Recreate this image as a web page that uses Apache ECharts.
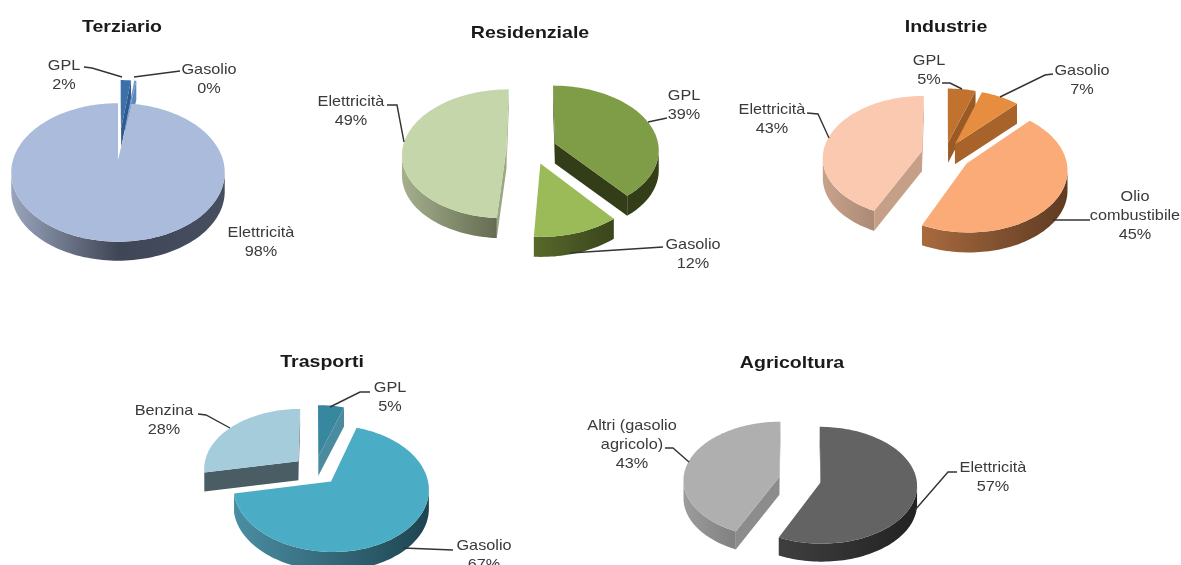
<!DOCTYPE html>
<html>
<head>
<meta charset="utf-8">
<style>html,body{margin:0;padding:0;background:#fff}#chart{width:1181px;height:565px}</style>
<script src="https://cdn.jsdelivr.net/npm/echarts@6/dist/echarts.min.js"></script>
</head>
<body>
<div id="chart"></div>
<script>
// Energy mix per sector, in percent, clockwise from twelve o'clock.
const terziarioNames = ['GPL', 'Gasolio', 'Elettricità'];
const terziarioValues = [2, 0.4, 97.6];
const residenzialeNames = ['GPL', 'Gasolio', 'Elettricità'];
const residenzialeValues = [39, 12, 49];
const industrieNames = ['GPL', 'Gasolio', 'Olio\ncombustibile', 'Elettricità'];
const industrieValues = [5, 7, 45, 43];
const trasportiNames = ['GPL', 'Gasolio', 'Benzina'];
const trasportiValues = [5, 67, 28];
const agricolturaNames = ['Elettricità', 'Altri (gasolio\nagricolo)'];
const agricolturaValues = [57, 43];

// Geometry and styling of each exploded pie: tilt (ry), perspective (k), extrusion depth.
const pies = [
  { title: 'Terziario', tx: 122, ty: 27, names: terziarioNames, values: terziarioValues,
    cx: 118, cy: 160, rx: 105, ry: 67, k: 0.18, depth: 19,
    explode: [0.52, 0.52, 0],
    top: ['#3d6fa8', '#6f96c9', '#abbbdb'],
    cut: ['#2d5a90', '#5b86bb', '#7f8ba6'],
    wall: [['#2d5a90', '#2d5a90'], ['#5b86bb', '#5b86bb'], ['#9aa5bd', '#3f4656', '#474e60']],
    labels: [[64, 75], [209, 79], [261, 242]],
    leaders: [[[84, 67], [92, 68], [122, 77]], [[180, 71], [134, 77]], null] },
  { title: 'Residenziale', tx: 530, ty: 33, names: residenzialeNames, values: residenzialeValues,
    cx: 532.5, cy: 148.5, rx: 104, ry: 64, k: 0.09, depth: 20,
    explode: [0.23, 0.24, 0.25],
    top: ['#7f9c47', '#9bbb59', '#c4d6aa'],
    cut: ['#333d18', '#4d5c22', '#9aa883'],
    wall: [['#333d18', '#333d18'], ['#58682a', '#3a451b'], ['#a5af8c', '#656c52']],
    labels: [[684, 105], [693, 254], [351, 111]],
    leaders: [[[667, 118], [648, 122]], [[663, 247], [570, 253]], [[387, 105], [397, 105], [404, 142]]] },
  { title: 'Industrie', tx: 946, ty: 27, names: industrieNames, values: industrieValues,
    cx: 945, cy: 154.5, rx: 99, ry: 61, k: 0.09, depth: 20,
    explode: [0.2, 0.2, 0.26, 0.24],
    top: ['#c2722f', '#e78d40', '#fbab78', '#fbc9af'],
    cut: ['#9a5a25', '#a8632a', '#a86a3e', '#c69f88'],
    wall: [['#9a5a25', '#9a5a25'], ['#a8632a', '#a8632a'], ['#a86a3e', '#5e3b22'], ['#c8a28b', '#ab8a76']],
    labels: [[929, 70], [1082, 80], [1135, 216], [772, 119]],
    leaders: [[[942, 83], [950, 83], [962, 89]], [[1053, 74], [1045, 75], [1000, 97]], [[1090, 220], [1053, 220]], [[807, 113], [818, 114], [829, 138]]] },
  { title: 'Trasporti', tx: 322, ty: 362, names: trasportiNames, values: trasportiValues,
    cx: 315, cy: 470, rx: 95, ry: 60, k: 0.11, depth: 19,
    explode: [0.23, 0.25, 0.23],
    top: ['#37879f', '#4bacc6', '#a5ccdb'],
    cut: ['#4a8ba0', '#2d6778', '#4a5c64'],
    wall: [['#2f7085', '#2f7085'], ['#4a8ea3', '#1e4450'], ['#4a5c64', '#4a5c64']],
    labels: [[390, 397], [484, 555], [164, 420]],
    leaders: [[[370, 392], [360, 392], [330, 407]], [[453, 550], [403, 548]], [[198, 414], [206, 415], [230, 428]]] },
  { title: 'Agricoltura', tx: 792, ty: 363, names: agricolturaNames, values: agricolturaValues,
    cx: 800, cy: 479.5, rx: 96, ry: 58, k: 0.05, depth: 18,
    explode: [0.22, 0.22],
    top: ['#636363', '#afafaf'],
    cut: ['#3b3b3b', '#8c8c8c'],
    wall: [['#3f3f3f', '#222222'], ['#9c9c9c', '#808080']],
    labels: [[993, 477], [632, 445]],
    leaders: [[[957, 472], [948, 472], [915, 510]], [[665, 448], [673, 448], [689, 462]]] }
];

const FONT = '"Liberation Sans", Arial, sans-serif';
const LABEL_STRETCH = 1.12;
const TITLE_STRETCH = 1.15;
const TAU = Math.PI * 2;

// Projects a point of the disc plane (u right, v toward the viewer) to the page.
function project(p, u, v) {
  const w = 1 - p.k * v;
  return [p.cx + p.rx * u / w, p.cy + p.ry * v / w];
}

function gradient(stops) {
  return new echarts.graphic.LinearGradient(0, 0, 1, 0,
    stops.map((c, i) => ({ offset: i / (stops.length - 1), color: c })));
}

function renderSlice(p, total, params, api) {
  const i = params.dataIndex;
  const value = api.value(0);
  const before = p.values.slice(0, i).reduce((a, b) => a + b, 0);
  const a0 = before / total * TAU;
  const a1 = (before + value) / total * TAU;
  const mid = (a0 + a1) / 2;
  const ex = p.explode[i] * Math.sin(mid);
  const ey = -p.explode[i] * Math.cos(mid);
  const at = (a, r) => project(p, r * Math.sin(a) + ex, -r * Math.cos(a) + ey);
  const down = pt => [pt[0], pt[1] + p.depth];

  const n = Math.max(2, Math.ceil((a1 - a0) / 0.03));
  const angles = [];
  for (let j = 0; j <= n; j++) angles.push(a0 + (a1 - a0) * j / n);

  const apex = at(0, 0);
  const rim = angles.map(a => at(a, 1));
  const order = Math.round((1 - Math.cos(mid)) * 10);
  const children = [];

  // Flat cut faces, kept only when they turn toward the viewer.
  [[a0, a0 + 0.02], [a1, a1 - 0.02]].forEach(([edge, inner]) => {
    const e = at(edge, 1);
    const m = at(inner, 1);
    const cross = (e[0] - apex[0]) * (m[1] - apex[1]) - (e[1] - apex[1]) * (m[0] - apex[0]);
    const downCross = e[0] - apex[0];
    if (cross * downCross < 0) {
      children.push({ type: 'polygon', z2: order,
        shape: { points: [apex, e, down(e), down(apex)] },
        style: { fill: p.cut[i] } });
    }
  });

  // Outer wall: only the near part of the rim shows below the top face.
  const lim = Math.acos(-p.k);
  const front = angles.filter(a => {
    const t = ((a % TAU) + TAU) % TAU;
    return t >= lim && t <= TAU - lim;
  });
  if (front.length > 1) {
    const upper = front.map(a => at(a, 1));
    const lower = upper.slice().reverse().map(down);
    children.push({ type: 'polygon', z2: order + 1,
      shape: { points: upper.concat(lower) },
      style: { fill: gradient(p.wall[i]) } });
  }

  // Top face.
  children.push({ type: 'polygon', z2: order + 2,
    shape: { points: [apex].concat(rim) },
    style: { fill: p.top[i] } });

  // Leader line and label.
  if (p.leaders[i]) {
    children.push({ type: 'polyline', z2: 50,
      shape: { points: p.leaders[i] },
      style: { fill: 'none', stroke: '#333333', lineWidth: 1.4 } });
  }
  children.push({ type: 'text', z2: 60,
    x: p.labels[i][0], y: p.labels[i][1], scaleX: LABEL_STRETCH,
    style: {
      text: p.names[i] + '\n' + Math.round(value) + '%',
      x: 0, y: 0, align: 'center', verticalAlign: 'middle',
      font: '14.5px ' + FONT, lineHeight: 19, fill: '#3a3a3a'
    } });
  return { type: 'group', children };
}

const chart = echarts.init(document.getElementById('chart'), null, { renderer: 'canvas' });
chart.setOption({
  animation: false,
  backgroundColor: '#ffffff',
  graphic: pies.map(p => ({
    type: 'text', x: p.tx, y: p.ty, scaleX: TITLE_STRETCH, z: 10,
    style: { text: p.title, x: 0, y: 0, align: 'center', verticalAlign: 'middle',
      font: 'bold 17px ' + FONT, fill: '#1a1a1a' }
  })),
  series: pies.map(p => {
    const total = p.values.reduce((a, b) => a + b, 0);
    return {
      type: 'custom', name: p.title, coordinateSystem: 'none', silent: true,
      data: p.values.map((v, i) => ({ name: p.names[i], value: [v] })),
      renderItem: (params, api) => renderSlice(p, total, params, api)
    };
  })
});
</script>
</body>
</html>
